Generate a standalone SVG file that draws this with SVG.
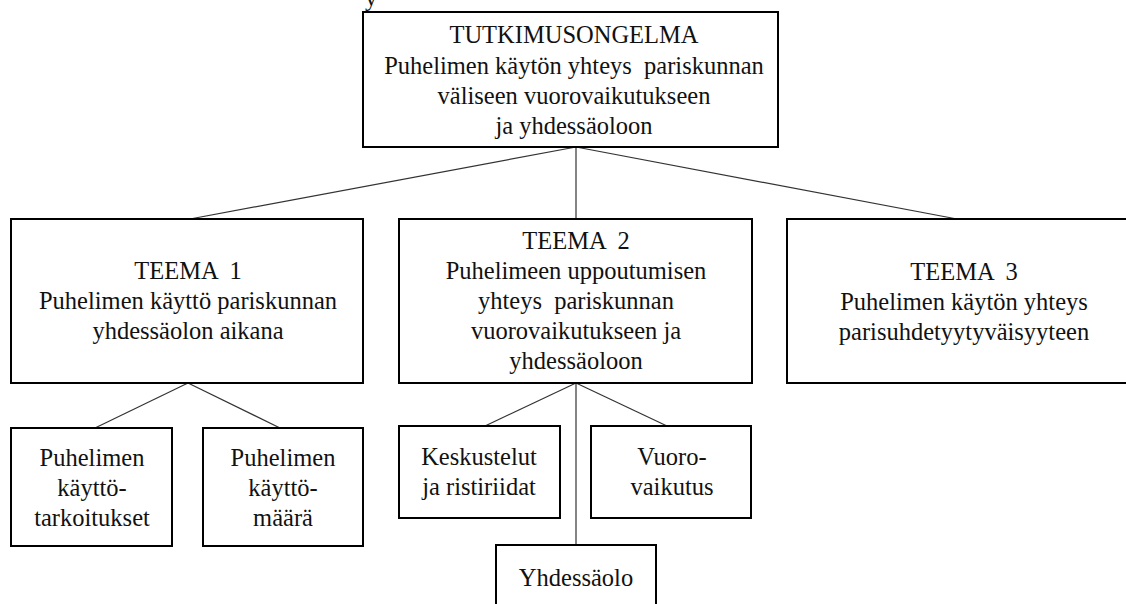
<svg xmlns="http://www.w3.org/2000/svg" width="1126" height="604" viewBox="0 0 1126 604">
<style>
  .box { fill: #ffffff; stroke: #000000; stroke-width: 2; }
  .t { font-family: "Liberation Serif", "Times New Roman", serif; font-size: 24.5px; fill: #111111; text-anchor: middle; }
  .c { stroke: #333333; stroke-width: 1.2; fill: none; }
</style>
<rect x="0" y="0" width="1126" height="604" fill="#ffffff"/>
<text class="t" x="371" y="6">y</text>
<g id="connectors">
  <line class="c" x1="576" y1="147" x2="190" y2="219"/>
  <line class="c" x1="576" y1="147" x2="576" y2="219"/>
  <line class="c" x1="576" y1="147" x2="957" y2="219"/>
  <line class="c" x1="188" y1="383" x2="95" y2="428"/>
  <line class="c" x1="188" y1="383" x2="280" y2="428"/>
  <line class="c" x1="576" y1="383" x2="485" y2="426"/>
  <line class="c" x1="576" y1="383" x2="667" y2="426"/>
  <line class="c" x1="576" y1="383" x2="576" y2="545"/>
</g>
<g id="root">
  <rect class="box" x="363" y="12" width="415" height="135"/>
  <text class="t" x="574" y="43">TUTKIMUSONGELMA</text>
  <text class="t" x="574" y="73.5" xml:space="preserve">Puhelimen käytön yhteys  pariskunnan</text>
  <text class="t" x="574" y="104">väliseen vuorovaikutukseen</text>
  <text class="t" x="574" y="134">ja yhdessäoloon</text>
</g>
<g id="teema1">
  <rect class="box" x="11" y="219" width="352" height="164"/>
  <text class="t" x="188" y="279" xml:space="preserve">TEEMA  1</text>
  <text class="t" x="188" y="309">Puhelimen käyttö pariskunnan</text>
  <text class="t" x="188" y="339">yhdessäolon aikana</text>
</g>
<g id="teema2">
  <rect class="box" x="399" y="219" width="353" height="164"/>
  <text class="t" x="576" y="249" xml:space="preserve">TEEMA  2</text>
  <text class="t" x="576" y="279">Puhelimeen uppoutumisen</text>
  <text class="t" x="576" y="309" xml:space="preserve">yhteys  pariskunnan</text>
  <text class="t" x="576" y="339">vuorovaikutukseen ja</text>
  <text class="t" x="576" y="369">yhdessäoloon</text>
</g>
<g id="teema3">
  <rect class="box" x="787" y="219" width="354" height="164"/>
  <text class="t" x="964" y="280" xml:space="preserve">TEEMA  3</text>
  <text class="t" x="964" y="310">Puhelimen käytön yhteys</text>
  <text class="t" x="964" y="340">parisuhdetyytyväisyyteen</text>
</g>
<g id="kayttotarkoitukset">
  <rect class="box" x="11" y="428" width="161" height="118"/>
  <text class="t" x="92" y="466">Puhelimen</text>
  <text class="t" x="92" y="496">käyttö-</text>
  <text class="t" x="92" y="526">tarkoitukset</text>
</g>
<g id="kayttomaara">
  <rect class="box" x="203" y="428" width="160" height="118"/>
  <text class="t" x="283" y="466">Puhelimen</text>
  <text class="t" x="283" y="496">käyttö-</text>
  <text class="t" x="283" y="526">määrä</text>
</g>
<g id="keskustelut">
  <rect class="box" x="399" y="426" width="161" height="92"/>
  <text class="t" x="479" y="465">Keskustelut</text>
  <text class="t" x="479" y="495">ja ristiriidat</text>
</g>
<g id="vuorovaikutus">
  <rect class="box" x="591" y="426" width="160" height="92"/>
  <text class="t" x="672" y="465">Vuoro-</text>
  <text class="t" x="672" y="495">vaikutus</text>
</g>
<g id="yhdessaolo">
  <rect class="box" x="496" y="545" width="160" height="80"/>
  <text class="t" x="576" y="586">Yhdessäolo</text>
</g>
</svg>
